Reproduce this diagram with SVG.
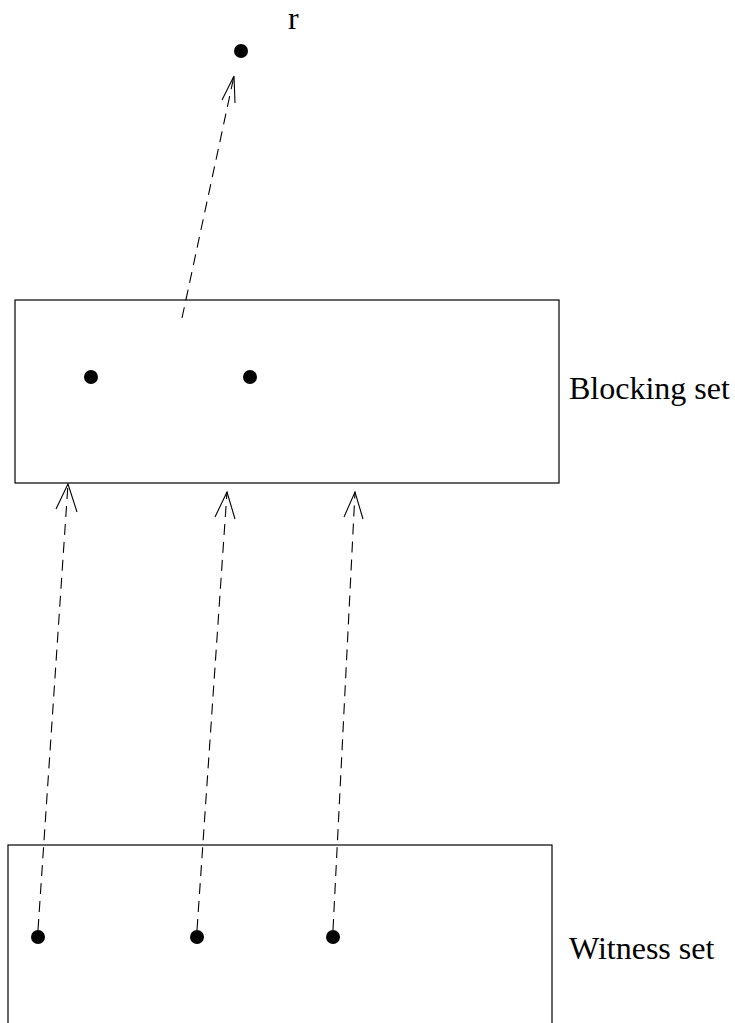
<svg xmlns="http://www.w3.org/2000/svg" width="735" height="1023" viewBox="0 0 735 1023">
<style>
.box{fill:none;stroke:#000;stroke-width:1.2}
.dot{fill:#000}
.edge{fill:none;stroke:#000;stroke-width:1.1;stroke-dasharray:11 7}
.head{fill:none;stroke:#000;stroke-width:1.1}
.lbl{font-family:"Liberation Serif","Times New Roman",serif;font-size:32px;fill:#000}
</style>
<rect width="735" height="1023" fill="#fff"/>
<g id="connectors">
<line class="edge" x1="182" y1="318" x2="234" y2="76"/>
<polyline class="head" points="222,100 234,76 235,103"/>
<line class="edge" x1="38" y1="930" x2="68" y2="484"/>
<polyline class="head" points="56,509 68,484 77,512"/>
<line class="edge" x1="197" y1="930" x2="227" y2="492"/>
<polyline class="head" points="215,517 227,492 235,519"/>
<line class="edge" x1="333" y1="930" x2="355" y2="492"/>
<polyline class="head" points="344,517 355,492 363,519"/>
</g>
<g id="r">
<circle class="dot" cx="241" cy="51" r="7"/>
<text class="lbl" x="288" y="29">r</text>
</g>
<g id="blocking-set">
<rect class="box" x="15" y="300" width="544" height="183"/>
<circle class="dot" cx="91" cy="377" r="7"/>
<circle class="dot" cx="250" cy="377" r="7"/>
<text class="lbl" x="569" y="399">Blocking set</text>
</g>
<g id="witness-set">
<rect class="box" x="8" y="845" width="544" height="200"/>
<circle class="dot" cx="38" cy="937" r="7"/>
<circle class="dot" cx="197" cy="937" r="7"/>
<circle class="dot" cx="333" cy="937" r="7"/>
<text class="lbl" x="569" y="959">Witness set</text>
</g>
</svg>
